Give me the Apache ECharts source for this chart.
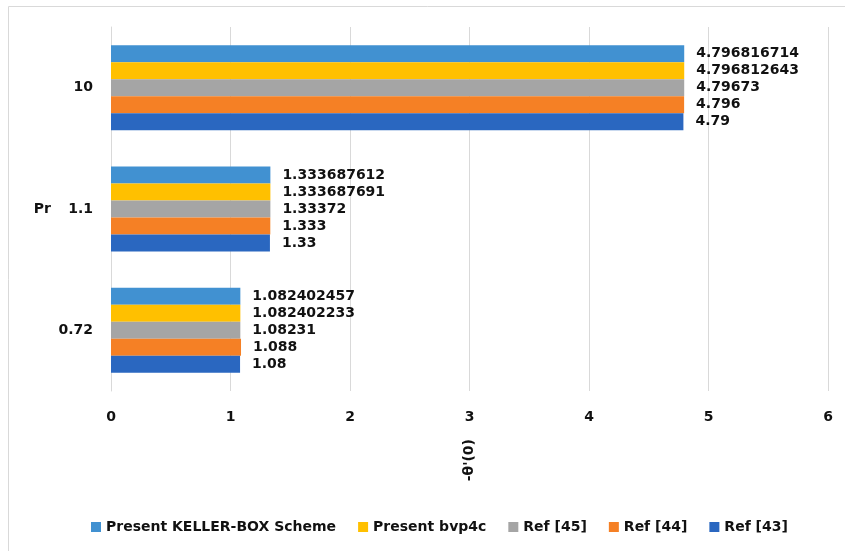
<!DOCTYPE html>
<html>
<head>
<meta charset="utf-8">
<script src="https://cdn.jsdelivr.net/npm/echarts@6/dist/echarts.min.js"></script>
<style>
  html, body { margin: 0; padding: 0; background: #fff; }
  #main { width: 845px; height: 551px; }
</style>
</head>
<body>
<div id="main"></div>
<script>
// Pr values, bottom to top
var categories = ["0.72", "1.1", "10"];
var kellerBox = [1.082402457, 1.333687612, 4.796816714];
var bvp4c = [1.082402233, 1.333687691, 4.796812643];
var ref45 = [1.08231, 1.33372, 4.79673];
var ref44 = [1.088, 1.333, 4.796];
var ref43 = [1.08, 1.33, 4.79];
var xTicks = [0, 6, 1];

var fontFam = "DejaVu Sans";

function barSeries(name, data, color) {
  return {
    name: name,
    type: "bar",
    data: data,
    barWidth: 17,
    barGap: "0%",
    itemStyle: { color: color },
    label: {
      show: true,
      position: "right",
      distance: 12,
      formatter: "{c}",
      color: "#111",
      fontFamily: fontFam,
      fontWeight: "bold",
      fontSize: 14
    }
  };
}

var chart = echarts.init(document.getElementById("main"));
var option = {
  animation: false,
  graphic: [{
    type: "rect",
    shape: { x: 8.5, y: 6.5, width: 900, height: 600 },
    style: { fill: "none", stroke: "#d9d9d9", lineWidth: 1 }
  }],
  grid: { left: 111, right: 17, top: 27, bottom: 160 },
  legend: {
    data: ["Present KELLER-BOX Scheme", "Present bvp4c", "Ref [45]", "Ref [44]", "Ref [43]"],
    left: 86,
    top: 515,
    icon: "rect",
    itemWidth: 10,
    itemHeight: 10,
    itemGap: 22,
    textStyle: { fontFamily: fontFam, fontWeight: "bold", fontSize: 14, color: "#111" }
  },
  xAxis: {
    type: "value",
    min: xTicks[0],
    max: xTicks[1],
    interval: xTicks[2],
    name: "-θ'(0)",
    nameLocation: "middle",
    nameRotate: 90,
    nameGap: 48,
    nameTextStyle: { fontFamily: fontFam, fontWeight: "bold", fontSize: 14, color: "#111" },
    axisLine: { show: false },
    axisTick: { show: false },
    axisLabel: { margin: 19, fontFamily: fontFam, fontWeight: "bold", fontSize: 14, color: "#111" },
    splitLine: { show: true, lineStyle: { color: "#d9d9d9" } }
  },
  yAxis: {
    type: "category",
    data: categories,
    name: "Pr",
    nameLocation: "middle",
    nameRotate: 0,
    nameGap: 60,
    nameTextStyle: { fontFamily: fontFam, fontWeight: "bold", fontSize: 14, color: "#111" },
    axisLine: { show: true, lineStyle: { color: "#d9d9d9" } },
    axisTick: { show: false },
    axisLabel: { margin: 18, fontFamily: fontFam, fontWeight: "bold", fontSize: 14, color: "#111" }
  },
  series: [
    barSeries("Present KELLER-BOX Scheme", kellerBox, "#4191d1"),
    barSeries("Present bvp4c", bvp4c, "#ffc000"),
    barSeries("Ref [45]", ref45, "#a5a5a5"),
    barSeries("Ref [44]", ref44, "#f58025"),
    barSeries("Ref [43]", ref43, "#2a67c0")
  ]
};
chart.setOption(option);
</script>
</body>
</html>
